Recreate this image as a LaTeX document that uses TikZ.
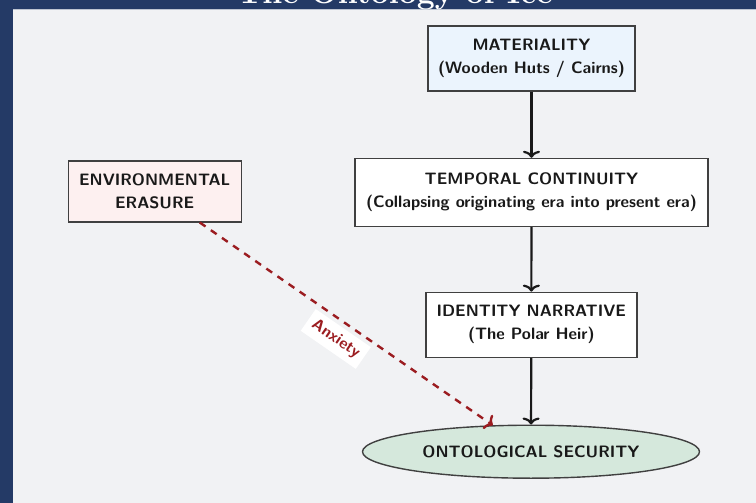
\documentclass[tikz,border=0pt]{standalone}
\usetikzlibrary{arrows.meta,shapes.geometric}
\definecolor{bgc}{HTML}{F1F2F4}
\definecolor{frame}{HTML}{243A66}
\definecolor{matfill}{HTML}{EBF4FD}
\definecolor{envfill}{HTML}{FDF0F0}
\definecolor{secfill}{HTML}{D5E8DC}
\definecolor{anx}{HTML}{9B1C20}
\tikzset{
  boxnode/.style={draw=black!75, line width=1.4pt, align=center, inner sep=0pt,
    font=\sffamily\bfseries\fontsize{16.5}{23}\selectfont, text=black!90},
  flowarrow/.style={line width=2.2pt, -{To[length=7pt,width=17pt]}, black!90},
  anxarrow/.style={line width=2.4pt, anx, dash pattern=on 7pt off 6.5pt, -{To[length=7pt,width=17pt]}},
  anxlabel/.style={fill=white, text=anx, font=\sffamily\bfseries\fontsize{16}{18}\selectfont, inner sep=6pt}
}
\begin{document}
\begin{tikzpicture}[x=1pt,y=-1pt]
\useasboundingbox (0,0) rectangle (756,503);
\clip (0,0) rectangle (756,503);
\fill[bgc] (0,0) rectangle (756,503);
\fill[frame] (0,0) rectangle (756,9);
\fill[frame] (0,0) rectangle (13,503);
\draw[white!70!frame, line width=0.6pt] (13,9.3) -- (756,9.3);
\node[anchor=base, text=white, font=\rmfamily\bfseries\fontsize{32}{34}\selectfont, inner sep=0pt] (title) at (395,4) {The Ontology of Ice};

\node[boxnode, fill=matfill, minimum width=207pt, minimum height=65pt] (mat) at (531.5,58.5) {MATERIALITY\\(Wooden Huts / Cairns)};
\node[boxnode, fill=white, minimum width=353pt, minimum height=68pt] (temp) at (531.5,192.5) {TEMPORAL CONTINUITY\\(Collapsing originating era into present era)};
\node[boxnode, fill=white, minimum width=211pt, minimum height=65pt] (ident) at (531.3,324.8) {IDENTITY NARRATIVE\\(The Polar Heir)};
\node[boxnode, fill=envfill, minimum width=173pt, minimum height=61pt] (env) at (154.7,191.3) {ENVIRONMENTAL\\ERASURE};
\node[boxnode, ellipse, fill=secfill, minimum width=337pt, minimum height=53pt] (sec) at (531,451.7) {ONTOLOGICAL SECURITY};

\draw[flowarrow] (mat) -- (temp);
\draw[flowarrow] (temp) -- (ident);
\draw[flowarrow] (ident) -- (sec);
\draw[anxarrow] (env) -- node[anxlabel, midway, sloped, below=4pt] (anxl) {Anxiety} (sec);
\end{tikzpicture}
\end{document}
